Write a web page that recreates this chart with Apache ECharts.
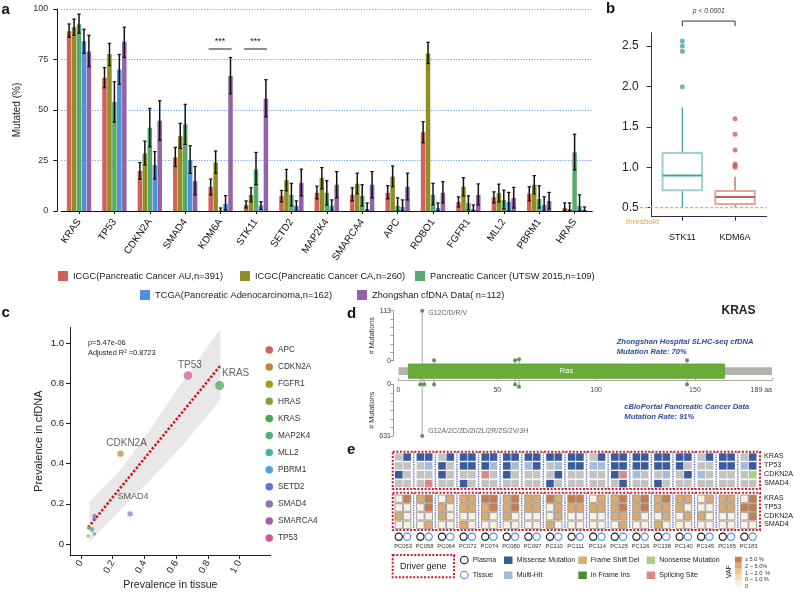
<!DOCTYPE html>
<html>
<head>
<meta charset="utf-8">
<script src="https://cdn.jsdelivr.net/npm/echarts@6/dist/echarts.min.js"></script>
<style>html,body{margin:0;padding:0;background:#fff;}#chart{width:794px;height:592px;}</style>
</head>
<body>
<div id="chart"></div>
<script>
// ================= Panel a data =================
const genesA = ['KRAS','TP53','CDKN2A','SMAD4','KDM6A','STK11','SETD2','MAP2K4','SMARCA4','APC','ROBO1','FGFR1','MLL2','PBRM1','HRAS'];
const cohorts = ['ICGC(Pancreatic Cancer AU,n=391)','ICGC(Pancreatic Cancer CA,n=260)','Pancreatic Cancer (UTSW 2015,n=109)','TCGA(Pancreatic Adenocarcinoma,n=162)','Zhongshan cfDNA Data( n=112)'];
const icgcAU   = [89, 66, 19.8, 26.6, 12, 3, 7.5, 9, 8, 9, 39, 4.5, 6.8, 8.5, 1.5];
const icgcAULo = [86, 61, 15.7, 22, 8, 1.5, 4.5, 6, 5, 6, 33.8, 2, 4, 5, 0.3];
const icgcAUHi = [92.6, 71, 24, 31.5, 15.8, 5, 10.2, 12.3, 11.5, 12.5, 44.2, 7, 9.5, 12, 4];
const icgcCA   = [91, 77.7, 28.5, 37, 24, 8, 15.3, 16.3, 13.5, 17, 78, 12, 8.8, 13, 1];
const icgcCALo = [87, 72, 22.8, 31, 18.6, 4.5, 10, 11, 8.5, 12, 73, 7.5, 4.5, 8.5, 0];
const icgcCAHi = [95, 83, 34.6, 43.4, 29.7, 11.5, 20.6, 21.5, 18.7, 22.3, 83.5, 16.5, 13.3, 17.5, 4];
const utsw     = [92.5, 54, 41.2, 42.9, 0, 20.6, 8, 9, 7.5, 2.5, 8, 4, 5.5, 6, 29];
const utswLo   = [88, 44, 31.8, 33, 0, 13, 2.5, 3, 2.5, 0, 3, 0.5, 1, 1.5, 20.3];
const utswHi   = [97.5, 64, 50.8, 52.8, 1.5, 29, 13.7, 15, 13, 6.5, 13.7, 7.5, 10.3, 12.5, 38];
const tcga     = [84, 70, 22.8, 25.2, 3.5, 2.7, 2.5, 2.5, 1, 2, 1.5, 0.8, 4.5, 3, 2.5];
const tcgaLo   = [78, 62.7, 15.8, 18.6, 0.5, 0.8, 0, 0, 0, 0, 0, 0, 0, 0, 0];
const tcgaHi   = [90, 77.5, 29.4, 32.3, 7.6, 4.6, 5, 5.5, 4, 5.5, 4, 3, 9.2, 7, 8];
const zs       = [79, 83.8, 44.7, 14.8, 66.8, 55.6, 14, 13, 13, 12, 9, 8, 6.5, 5, 0.5];
const zsLo     = [71.5, 76, 35, 8, 58, 46.7, 7.5, 6.5, 6.5, 5.5, 4, 3, 1.5, 1, 0];
const zsHi     = [87, 91, 54.6, 22, 76, 65, 20.7, 19.5, 19.5, 18.7, 14.5, 13.4, 11.7, 9.2, 2];
const sigGenes = ['KDM6A','STK11'];
const sigLevel = 80.2;
const sigMark = '***';

// ================= Panel b data =================
const boxGenes = ['STK11','KDM6A'];
const boxMin = [0.505, 0.505];
const boxQ1  = [0.715, 0.546];
const boxMed = [0.90, 0.632];
const boxQ3  = [1.177, 0.707];
const boxMax = [1.74, 0.884];
const outSTK11 = [2.563, 2.5, 2.436, 1.998];
const outKDM6A = [1.60, 1.408, 1.214, 1.04, 1.02, 1.0];
const threshold = 0.5;
const pText = 'p < 0.0001';
const ticksB = [0.5, 1.0, 1.5, 2.0, 2.5];

// ================= Panel c data =================
const genesC  = ['APC','CDKN2A','FGFR1','HRAS','KRAS','MAP2K4','MLL2','PBRM1','SETD2','SMAD4','SMARCA4','TP53'];
const tissueC = [0.05, 0.25, 0.05, 0.045, 0.875, 0.07, 0.07, 0.085, 0.085, 0.31, 0.085, 0.675];
const cfdnaC  = [0.08, 0.45, 0.08, 0.04, 0.79, 0.075, 0.07, 0.05, 0.125, 0.15, 0.14, 0.84];
const labeledC = ['CDKN2A','KRAS','SMAD4','TP53'];
const fitX = [0.046, 0.884];
const fitY = [0.083, 0.893];
const bandX  = [0.053, 0.25, 0.45, 0.65, 0.88];
const bandLo = [0.01, 0.17, 0.33, 0.50, 0.72];
const bandHi = [0.21, 0.37, 0.585, 0.82, 1.07];
const ticksC = [0, 0.2, 0.4, 0.6, 0.8, 1.0];
const statText1 = 'p=5.47e-06';
const statText2 = 'Adjusted R\u00B2 =0.8723';

// ================= Panel d data =================
const proteinLen = 189;
const domainStart = 5, domainEnd = 165, domainName = 'Ras';
const upPos = [12, 18, 59, 61, 146];
const upCnt = [113, 1, 1, 3, 1];
const upLabel = ['G12C/D/R/V', '', '', '', ''];
const upMax = 113;
const lowPos = [11, 12, 13, 18, 59, 61, 146];
const lowCnt = [2, 631, 2, 2, 2, 30, 2];
const lowLabel = ['', 'G12A/2C/2D/2I/2L/2R/2S/2V/3H', '', '', '', '', ''];
const lowMax = 631;
const ticksD = [0, 50, 100, 150, 189];

// ================= Panel e data =================
const samples = ['PC053','PC058','PC064','PC072','PC074','PC080','PC097','PC110','PC111','PC114','PC125','PC126','PC138','PC140','PC145','PC165','PC183'];
const genesE = ['KRAS','TP53','CDKN2A','SMAD4'];
// mutation type per sample [plasma, tissue]: 0 none,1 missense,2 multi-hit,3 splicing,4 nonsense
const mutKRAS   = [[0,1],[1,1],[0,1],[1,1],[1,1],[1,1],[1,1],[1,1],[1,1],[0,1],[1,1],[1,1],[1,1],[1,1],[0,1],[1,1],[0,1]];
const mutTP53   = [[0,0],[0,2],[1,0],[1,1],[1,2],[1,2],[2,1],[0,2],[1,1],[2,2],[1,1],[1,1],[1,1],[1,0],[0,0],[1,1],[2,1]];
const mutCDKN2A = [[1,0],[0,0],[1,0],[0,0],[3,0],[1,0],[0,0],[0,1],[0,0],[0,0],[1,3],[2,0],[0,2],[0,1],[2,0],[0,0],[0,4]];
const mutSMAD4  = [[0,0],[0,3],[0,0],[1,0],[0,0],[0,0],[0,0],[1,0],[0,0],[0,0],[0,1],[0,0],[1,0],[0,0],[0,0],[0,0],[0,0]];
// VAF level per sample [plasma, tissue]: 0 none, 1 0~1%, 2 1~2%, 3 2~5%, 4 >=5%
const vafKRAS   = [[0,4],[3,4],[0,3],[3,3],[4,4],[3,4],[3,3],[4,3],[4,4],[0,3],[3,4],[3,4],[3,4],[3,3],[0,3],[3,3],[0,4]];
const vafTP53   = [[0,0],[0,4],[3,0],[3,3],[3,4],[3,4],[3,3],[0,3],[3,3],[3,3],[3,4],[3,4],[3,3],[3,0],[0,0],[3,3],[4,4]];
const vafCDKN2A = [[3,0],[0,0],[3,0],[0,0],[3,0],[3,0],[0,0],[0,3],[0,0],[0,0],[3,3],[3,0],[0,3],[0,3],[3,0],[0,0],[0,4]];
const vafSMAD4  = [[0,0],[0,3],[0,0],[3,0],[0,0],[0,0],[0,0],[3,0],[0,0],[0,0],[0,3],[0,0],[3,0],[0,0],[0,0],[0,0],[0,0]];
const vafLabels = ['\u2265 5.0 %','2 ~ 5.0%','1 ~ 2.0  %','0 ~ 1.0 %','0'];

// ================= styling =================
const FF = '"Liberation Sans", Arial, Helvetica, sans-serif';
const colA = ['#cf6259','#8e8e24','#5aa96c','#4d92de','#9462a8'];
const BAR_W = 4.5, BAR_STEP = 4.95;
const boxDark = ['#4aa3a6','#cf5f55'], boxLight = ['#9dd0d1','#e6a6a0'];
const colC = ['#cf6359','#c0862f','#a29a26','#7ea334','#4aa546','#4fae7c','#50aeaa','#4f9ce0','#5b76c8','#8f73ba','#a95aa8','#d4569a'];
const MUT_COL = ['#c3c3c3','#3a5b9d','#a4bcda','#d58a88','#aad07f'];
const VAF_COL = ['#f8f0e2','#f1ddbb','#e9c794','#dcaa6c','#ca7b4a'];
const mutByGene = [mutKRAS, mutTP53, mutCDKN2A, mutSMAD4];
const vafByGene = [vafKRAS, vafTP53, vafCDKN2A, vafSMAD4];

const chart = echarts.init(document.getElementById('chart'), null, {renderer:'canvas', width:794, height:592});

const valsA = [icgcAU, icgcCA, utsw, tcga, zs];
const losA  = [icgcAULo, icgcCALo, utswLo, tcgaLo, zsLo];
const hisA  = [icgcAUHi, icgcCAHi, utswHi, tcgaHi, zsHi];
const errData = [];
valsA.forEach((v,k)=>v.forEach((_,i)=>errData.push([i,k,losA[k][i],hisA[k][i]])));

const fmtC = v => (Math.abs(v) < 1e-9 ? '0' : v.toFixed(1));
const sizeC = (x,y) => 1.5 + 7.5*Math.sqrt((x+y)/1.67);
const labelCfg = {
  TP53:{offset:[2,0], distance:1, fontSize:10},
  KRAS:{offset:[16,0], distance:3, fontSize:10},
  CDKN2A:{offset:[6,0], distance:2, fontSize:10},
  SMAD4:{offset:[3,0], distance:10, fontSize:9}
};

const noSplit = {show:false};
function hidden(grid, min, max, extra){ return Object.assign({type:'value', gridIndex:grid, min:min, max:max, show:false}, extra||{}); }

const grids = [
  {left:61.3, top:9, width:531, height:202},        // a
  {left:651.7, top:32.7, width:115, height:184},     // b
  {left:70, top:327.3, width:200.7, height:227.7},   // c
  {left:398.5, top:310.7, width:373.5, height:50},   // d upper
  {left:398.5, top:364, width:373.5, height:14.3},   // d protein
  {left:398.5, top:384.3, width:373.5, height:51.7}, // d lower
  {left:392, top:450, width:370, height:102}         // e
].map(g=>Object.assign({containLabel:false, outerBoundsMode:'none'}, g));

const xAxes = [
  {type:'category', gridIndex:0, data:genesA, offset:4,
   axisLine:{show:true, lineStyle:{color:'#111', width:1}},
   axisTick:{show:true, alignWithLabel:true, length:3, lineStyle:{color:'#111'}},
   axisLabel:{rotate:55, interval:0, fontSize:10, color:'#111', margin:5, fontFamily:FF},
   splitLine:noSplit},
  {type:'value', gridIndex:1, min:0.419, max:2.6,
   axisLine:{show:true, onZero:false, lineStyle:{color:'#333'}},
   axisTick:{show:true, customValues:[1,2], length:4, lineStyle:{color:'#333'}},
   axisLabel:{show:true, customValues:[1,2], formatter:v=>boxGenes[Math.round(v)-1], fontSize:9, color:'#111', margin:16, fontFamily:FF},
   splitLine:noSplit},
  {type:'value', gridIndex:2, min:-0.069, max:1.197,
   axisLine:{show:true, onZero:false, lineStyle:{color:'#222'}},
   axisTick:{show:true, customValues:ticksC, length:4, lineStyle:{color:'#222'}},
   axisLabel:{show:true, customValues:ticksC, formatter:fmtC, rotate:60, fontSize:9.6, color:'#222', margin:6, fontFamily:FF},
   splitLine:noSplit,
   name:'Prevalence in tissue', nameLocation:'middle', nameGap:25,
   nameTextStyle:{fontSize:10.5, color:'#222', fontFamily:FF}},
  hidden(3, 0, proteinLen),
  {type:'value', gridIndex:4, min:0, max:proteinLen, position:'bottom', offset:1.7,
   axisLine:{show:true, onZero:false, lineStyle:{color:'#aaa'}},
   axisTick:{show:true, inside:true, customValues:ticksD, length:2.5, lineStyle:{color:'#aaa'}},
   axisLabel:{show:true, customValues:ticksD, formatter:v=>(v===proteinLen? v+' aa' : String(v)), fontSize:7, color:'#444', margin:7, fontFamily:FF, alignMaxLabel:'right'},
   splitLine:noSplit},
  hidden(5, 0, proteinLen),
  hidden(6, 0, 370)
];

const yAxes = [
  {type:'value', gridIndex:0, min:0, max:100, interval:25, offset:4,
   axisLine:{show:true, lineStyle:{color:'#111'}},
   axisTick:{show:true, length:4, lineStyle:{color:'#111'}},
   axisLabel:{show:true, fontSize:9, color:'#333', margin:9, fontFamily:FF},
   splitLine:{show:true, lineStyle:{color:'#6e9fe6', type:[1.2,1.6], width:1}},
   name:'Mutated (%)', nameLocation:'middle', nameGap:29, nameRotate:90,
   nameTextStyle:{fontSize:10, color:'#222', fontFamily:FF}},
  {type:'value', gridIndex:1, min:0.3886, max:2.666,
   axisLine:{show:true, onZero:false, lineStyle:{color:'#333'}},
   axisTick:{show:true, customValues:ticksB, length:5, lineStyle:{color:'#333'}},
   axisLabel:{show:true, customValues:ticksB, formatter:v=>v.toFixed(1), fontSize:12, color:'#222', margin:13, fontFamily:FF},
   splitLine:noSplit},
  {type:'value', gridIndex:2, min:-0.055, max:1.08,
   axisLine:{show:true, onZero:false, lineStyle:{color:'#222'}},
   axisTick:{show:true, customValues:ticksC, length:4, lineStyle:{color:'#222'}},
   axisLabel:{show:true, customValues:ticksC, formatter:fmtC, fontSize:9.6, color:'#222', margin:6, fontFamily:FF},
   splitLine:noSplit,
   name:'Prevalence in cfDNA', nameLocation:'middle', nameGap:26, nameRotate:90,
   nameTextStyle:{fontSize:11, color:'#222', fontFamily:FF}},
  {type:'value', gridIndex:3, min:0, max:upMax, offset:5.5,
   axisLine:{show:true, onZero:false, lineStyle:{color:'#999'}},
   axisTick:{show:true, customValues:[0,1,2,3,4,5,6].map(k=>upMax*k/6), length:2.5, lineStyle:{color:'#999'}},
   axisLabel:{show:true, customValues:[0, upMax], fontSize:7, color:'#333', margin:2, fontFamily:FF},
   splitLine:noSplit,
   name:'# Mutations', nameLocation:'middle', nameGap:13, nameRotate:90,
   nameTextStyle:{fontSize:7.2, color:'#333', fontFamily:FF}},
  hidden(4, 0, 1),
  {type:'value', gridIndex:5, min:0, max:lowMax, inverse:true, offset:5.5,
   axisLine:{show:true, onZero:false, lineStyle:{color:'#999'}},
   axisTick:{show:true, customValues:[0,1,2,3,4,5,6].map(k=>lowMax*k/6), length:2.5, lineStyle:{color:'#999'}},
   axisLabel:{show:true, customValues:[0, lowMax], fontSize:7, color:'#333', margin:2, fontFamily:FF},
   splitLine:noSplit,
   name:'# Mutations', nameLocation:'middle', nameGap:13, nameRotate:90,
   nameTextStyle:{fontSize:7.2, color:'#333', fontFamily:FF}},
  hidden(6, 0, 102, {inverse:true})
];

const series = [];
// ---- panel a bars
valsA.forEach((v,k)=>{
  series.push({type:'bar', name:cohorts[k], xAxisIndex:0, yAxisIndex:0, data:v,
    barWidth:BAR_W, barGap:'10%', itemStyle:{color:colA[k]}, z:2, silent:true});
});
// ---- panel a error bars
series.push({type:'custom', xAxisIndex:0, yAxisIndex:0, data:errData, z:4, silent:true,
  encode:{x:0, y:[2,3]},
  renderItem(params, api){
    const c = api.value(0), k = api.value(1);
    const lo = api.coord([c, api.value(2)]), hi = api.coord([c, api.value(3)]);
    const x = lo[0] + (k-2)*BAR_STEP;
    const st = {stroke:'#111', lineWidth:1.5};
    return {type:'group', children:[
      {type:'line', shape:{x1:x, y1:lo[1], x2:x, y2:hi[1]}, style:st},
      {type:'line', shape:{x1:x-1.7, y1:hi[1], x2:x+1.7, y2:hi[1]}, style:{stroke:'#111', lineWidth:1.2}},
      {type:'line', shape:{x1:x-1.7, y1:lo[1], x2:x+1.7, y2:lo[1]}, style:{stroke:'#111', lineWidth:1.2}}
    ]};
  }});
// ---- panel a significance
series.push({type:'custom', xAxisIndex:0, yAxisIndex:0, silent:true, z:5,
  data:sigGenes.map(g=>[genesA.indexOf(g), sigLevel]),
  renderItem(params, api){
    const p = api.coord([api.value(0), api.value(1)]);
    return {type:'group', children:[
      {type:'line', shape:{x1:p[0]-12, y1:p[1], x2:p[0]+11, y2:p[1]}, style:{stroke:'#222', lineWidth:1}},
      {type:'text', x:p[0]-0.5, y:p[1]-3, style:{text:sigMark, fontSize:9, fill:'#222', align:'center', verticalAlign:'bottom', fontFamily:FF}}
    ]};
  }});

// ---- panel b threshold
series.push({type:'custom', xAxisIndex:1, yAxisIndex:1, silent:true, z:1,
  data:[[0.2, 2.6, threshold]],
  renderItem(params, api){
    const a = api.coord([api.value(0), api.value(2)]), b = api.coord([api.value(1), api.value(2)]);
    return {type:'line', shape:{x1:a[0], y1:a[1], x2:b[0], y2:b[1]}, style:{stroke:'#f0a830', lineWidth:1.3, lineDash:[3,2]}};
  }});
// ---- panel b boxes
series.push({type:'custom', xAxisIndex:1, yAxisIndex:1, silent:true, z:3,
  data:boxGenes.map((g,i)=>[i+1, boxMin[i], boxQ1[i], boxMed[i], boxQ3[i], boxMax[i]]),
  renderItem(params, api){
    const i = params.dataIndex, x = api.value(0);
    const pMin = api.coord([x, api.value(1)]), pQ1 = api.coord([x, api.value(2)]);
    const pMed = api.coord([x, api.value(3)]), pQ3 = api.coord([x, api.value(4)]);
    const pMax = api.coord([x, api.value(5)]);
    const hw = api.size([0.75, 0])[0]/2;
    return {type:'group', children:[
      {type:'line', shape:{x1:pMin[0], y1:pMin[1], x2:pQ1[0], y2:pQ1[1]}, style:{stroke:boxDark[i], lineWidth:1.3}},
      {type:'line', shape:{x1:pQ3[0], y1:pQ3[1], x2:pMax[0], y2:pMax[1]}, style:{stroke:boxDark[i], lineWidth:1.3}},
      {type:'rect', shape:{x:pQ3[0]-hw, y:pQ3[1], width:2*hw, height:pQ1[1]-pQ3[1]}, style:{fill:'#fff', stroke:boxLight[i], lineWidth:2}},
      {type:'line', shape:{x1:pMed[0]-hw, y1:pMed[1], x2:pMed[0]+hw, y2:pMed[1]}, style:{stroke:boxDark[i], lineWidth:2}}
    ]};
  }});
series.push({type:'scatter', xAxisIndex:1, yAxisIndex:1, silent:true, z:4, symbolSize:5,
  data:outSTK11.map(v=>[1, v]), itemStyle:{color:boxDark[0]}});
series.push({type:'scatter', xAxisIndex:1, yAxisIndex:1, silent:true, z:4, symbolSize:5,
  data:outKDM6A.map(v=>[2, v]), itemStyle:{color:boxDark[1]}});
// ---- panel b p-value bracket
series.push({type:'custom', xAxisIndex:1, yAxisIndex:1, silent:true, z:4,
  data:[[1, 2, 2.81]],
  renderItem(params, api){
    const a = api.coord([api.value(0), api.value(2)]), b = api.coord([api.value(1), api.value(2)]);
    const st = {stroke:'#333', lineWidth:1};
    return {type:'group', children:[
      {type:'line', shape:{x1:a[0], y1:a[1], x2:b[0], y2:b[1]}, style:st},
      {type:'line', shape:{x1:a[0], y1:a[1], x2:a[0], y2:a[1]+5}, style:st},
      {type:'line', shape:{x1:b[0], y1:b[1], x2:b[0], y2:b[1]+5}, style:st},
      {type:'text', x:(a[0]+b[0])/2, y:a[1]-9.5, style:{text:pText, fontSize:6.7, fontStyle:'italic', fill:'#333', align:'center', verticalAlign:'middle', fontFamily:FF}}
    ]};
  }});

// ---- panel c band
series.push({type:'custom', xAxisIndex:2, yAxisIndex:2, silent:true, z:1, data:[[0]],
  renderItem(params, api){
    const pts = [];
    bandX.forEach((x,i)=>pts.push(api.coord([x, bandHi[i]])));
    for (let i = bandX.length-1; i >= 0; i--) pts.push(api.coord([bandX[i], bandLo[i]]));
    return {type:'polygon', shape:{points:pts}, style:{fill:'rgba(200,200,200,0.42)'}};
  }});
series.push({type:'line', xAxisIndex:2, yAxisIndex:2, silent:true, z:3, symbol:'none',
  data:fitX.map((x,i)=>[x, fitY[i]]),
  lineStyle:{color:'#d01c1c', width:2.6, type:[2.4,1.8]}});
genesC.forEach((g,i)=>{
  const lc = labelCfg[g];
  series.push({type:'scatter', name:g, xAxisIndex:2, yAxisIndex:2, silent:true, z:4,
    data:[[tissueC[i], cfdnaC[i]]],
    symbolSize:sizeC(tissueC[i], cfdnaC[i]),
    itemStyle:{color:colC[i], opacity:0.72},
    label: labeledC.indexOf(g) >= 0 ? {show:true, formatter:g, position:'top', distance:lc.distance, offset:lc.offset,
      fontSize:lc.fontSize, color:'#222', fontFamily:FF} : {show:false}
  });
});

// ---- panel d protein & domain
series.push({type:'custom', xAxisIndex:4, yAxisIndex:4, silent:true, z:3,
  data:[[0, proteinLen, 0], [domainStart, domainEnd, 1]],
  renderItem(params, api){
    const s = api.value(0), e = api.value(1), isDom = api.value(2) === 1;
    if (!isDom) {
      const a = api.coord([s, 0.77]), b = api.coord([e, 0.23]);
      return {type:'rect', shape:{x:a[0], y:a[1], width:b[0]-a[0], height:b[1]-a[1]}, style:{fill:'#b3b3ad'}};
    }
    const a = api.coord([s, 1]), b = api.coord([e, 0]);
    return {type:'group', children:[
      {type:'rect', shape:{x:a[0], y:a[1], width:b[0]-a[0], height:b[1]-a[1]}, style:{fill:'#6aab3a', stroke:'#5c9c2e', lineWidth:0.8}},
      {type:'text', x:(a[0]+b[0])/2, y:(a[1]+b[1])/2, style:{text:domainName, fontSize:7.5, fill:'#fff', align:'center', verticalAlign:'middle', fontFamily:FF}}
    ]};
  }});
// stems
series.push({type:'custom', xAxisIndex:3, yAxisIndex:3, silent:true, z:1,
  data:upPos.map((p,i)=>[p, upCnt[i]]),
  renderItem(params, api){
    const a = api.coord([api.value(0), api.value(1)]), b = api.coord([api.value(0), 0]);
    return {type:'line', shape:{x1:a[0], y1:a[1], x2:b[0], y2:b[1]+4}, style:{stroke:'#a8a8a8', lineWidth:1}};
  }});
series.push({type:'custom', xAxisIndex:5, yAxisIndex:5, silent:true, z:1,
  data:lowPos.map((p,i)=>[p, lowCnt[i]]),
  renderItem(params, api){
    const a = api.coord([api.value(0), api.value(1)]), b = api.coord([api.value(0), 0]);
    return {type:'line', shape:{x1:a[0], y1:a[1], x2:b[0], y2:b[1]-6}, style:{stroke:'#a8a8a8', lineWidth:1}};
  }});
series.push({type:'scatter', xAxisIndex:3, yAxisIndex:3, silent:true, z:5, symbolSize:4,
  itemStyle:{color:'#3b7a2e'},
  data:upPos.map((p,i)=>({value:[p, upCnt[i]],
    label:{show:!!upLabel[i], formatter:upLabel[i], position:'right', distance:4, offset:[0,2.5], fontSize:7, color:'#333', fontFamily:FF}}))});
series.push({type:'scatter', xAxisIndex:5, yAxisIndex:5, silent:true, z:5, symbolSize:4,
  itemStyle:{color:'#3b7a2e'},
  data:lowPos.map((p,i)=>({value:[p, lowCnt[i]],
    label:{show:!!lowLabel[i], formatter:lowLabel[i], position:'right', distance:4, offset:[0,-5], fontSize:7, color:'#333', fontFamily:FF}}))});

// ---- panel e heatmaps
series.push({type:'custom', xAxisIndex:6, yAxisIndex:6, silent:true, z:2,
  data:samples.map((s,i)=>[i]),
  renderItem(params, api){
    const i = api.value(0);
    const L = 3 + i*21.6;
    const R = (x,y,w,h)=>{ const p = api.coord([x,y]), q = api.coord([x+w, y+h]); return {x:p[0], y:p[1], width:q[0]-p[0], height:q[1]-p[1]}; };
    const ch = [];
    for (let r = 0; r < 4; r++) {
      for (let c = 0; c < 2; c++) {
        ch.push({type:'rect', shape:R(L+c*8.3, 3.3+r*8.85, 7.6, 7.5), style:{fill:MUT_COL[mutByGene[r][i][c]]}});
        ch.push({type:'rect', shape:R(L+c*8.3, 45+r*8.7, 7.6, 7.6), style:{fill:VAF_COL[vafByGene[r][i][c]], stroke:'#9a9a9a', lineWidth:0.9}});
      }
    }
    const cp = api.coord([L+3.8, 86.7]), ct = api.coord([L+12.1, 86.7]);
    ch.push({type:'circle', shape:{cx:cp[0], cy:cp[1], r:3.6}, style:{fill:'none', stroke:'#111', lineWidth:1.1}});
    ch.push({type:'circle', shape:{cx:ct[0], cy:ct[1], r:3.6}, style:{fill:'none', stroke:'#4a8fe0', lineWidth:1.1}});
    const tl = api.coord([L+8, 96.7]);
    ch.push({type:'text', x:tl[0], y:tl[1], style:{text:samples[i], fontSize:5.8, fill:'#333', align:'center', verticalAlign:'middle', fontFamily:FF}});
    if (i > 0) {
      const a1 = api.coord([L-2.85, 2]), a2 = api.coord([L-2.85, 39]);
      const b1 = api.coord([L-2.85, 43]), b2 = api.coord([L-2.85, 80]);
      const st = {stroke:'#4c5cbf', lineWidth:1.4, lineDash:[1.2,1.2]};
      ch.push({type:'line', shape:{x1:a1[0], y1:a1[1], x2:a2[0], y2:a2[1]}, style:st});
      ch.push({type:'line', shape:{x1:b1[0], y1:b1[1], x2:b2[0], y2:b2[1]}, style:st});
    }
    return {type:'group', children:ch};
  }});
series.push({type:'custom', xAxisIndex:6, yAxisIndex:6, silent:true, z:3,
  data:[[0]],
  renderItem(params, api){
    const ch = [];
    const box = (x1,y1,x2,y2)=>{ const p = api.coord([x1,y1]), q = api.coord([x2,y2]);
      return {type:'rect', shape:{x:p[0], y:p[1], width:q[0]-p[0], height:q[1]-p[1]}, style:{fill:'none', stroke:'#c8202a', lineWidth:2, lineDash:[2,1.6]}}; };
    ch.push(box(0.7, 1.7, 368, 39));
    ch.push(box(0.7, 42.7, 368, 80));
    genesE.forEach((g,r)=>{
      const a = api.coord([372, 3.3+r*8.85+3.2]);
      const b = api.coord([372, 45+r*8.7+3.3]);
      ch.push({type:'text', x:a[0], y:a[1], style:{text:g, fontSize:7.2, fill:'#222', align:'left', verticalAlign:'middle', fontFamily:FF}});
      ch.push({type:'text', x:b[0], y:b[1], style:{text:g, fontSize:7.2, fill:'#222', align:'left', verticalAlign:'middle', fontFamily:FF}});
    });
    return {type:'group', children:ch};
  }});

// ---- legends
const legendPos = [[58,271],[240,271],[415,271],[140,290],[357,290]];
const legends = cohorts.map((n,k)=>({data:[n], left:legendPos[k][0], top:legendPos[k][1], icon:'rect',
  itemWidth:10, itemHeight:10, padding:0, itemGap:0, selectedMode:false,
  textStyle:{fontSize:9.3, color:'#222', fontFamily:FF}}));
legends.push({data:genesC.map((g,i)=>({name:g, itemStyle:{color:colC[i], opacity:1}})),
  orient:'vertical', left:265.5, top:346, icon:'circle', itemWidth:7.5, itemHeight:7.5, itemGap:9.1,
  padding:0, selectedMode:false, textStyle:{fontSize:8.2, color:'#333', lineHeight:8, fontFamily:FF}});

// ---- static texts / legend of panel e
const T = (x,y,text,o,rot)=>({type:'text', x:x, y:y, rotation:rot||0, silent:true, z:100,
  style:Object.assign({text:text, fontFamily:FF, fill:'#222', fontSize:8, align:'left', verticalAlign:'middle'}, o||{})});
const graphics = [
  T(1.5,10,'a',{fontSize:15, fontWeight:'bold', fill:'#111'}),
  T(606,9,'b',{fontSize:15, fontWeight:'bold', fill:'#111'}),
  T(1.5,313,'c',{fontSize:15, fontWeight:'bold', fill:'#111'}),
  T(347,314,'d',{fontSize:15, fontWeight:'bold', fill:'#111'}),
  T(347,450,'e',{fontSize:15, fontWeight:'bold', fill:'#111'}),
  T(659,221.7,'threshold',{fontSize:8, fill:'#e8a030', align:'right'}),
  T(88,343,statText1,{fontSize:7.4, fill:'#222'}),
  T(88,353.3,statText2,{fontSize:7.4, fill:'#222'}),
  T(738.5,310.7,'KRAS',{fontSize:12, fontWeight:'bold', fill:'#222', align:'center'}),
  T(616.7,342.3,'Zhongshan Hospital SLHC-seq cfDNA',{fontSize:7.6, fontWeight:'bold', fontStyle:'italic', fill:'#2f4b9b'}),
  T(616.7,352.3,'Mutation Rate: 70%',{fontSize:7.6, fontWeight:'bold', fontStyle:'italic', fill:'#2f4b9b'}),
  T(624.3,407.3,'cBioPortal Pancreatic Cancer Data',{fontSize:7.6, fontWeight:'bold', fontStyle:'italic', fill:'#2f4b9b'}),
  T(624.3,417.3,'Mutation Rate: 91%',{fontSize:7.6, fontWeight:'bold', fontStyle:'italic', fill:'#2f4b9b'}),
  // panel e legend
  {type:'rect', silent:true, z:100, shape:{x:392.7, y:555, width:61.3, height:22.3}, style:{fill:'none', stroke:'#c8202a', lineWidth:2, lineDash:[2,1.6]}},
  T(423.3,566.7,'Driver gene',{fontSize:9, align:'center'}),
  {type:'circle', silent:true, z:100, shape:{cx:464.3, cy:560, r:3.8}, style:{fill:'none', stroke:'#111', lineWidth:1.1}},
  T(472.7,560,'Plasma',{fontSize:7}),
  {type:'circle', silent:true, z:100, shape:{cx:464.3, cy:575, r:3.8}, style:{fill:'none', stroke:'#4a8fe0', lineWidth:1.1}},
  T(472.7,575,'Tissue',{fontSize:7}),
  {type:'rect', silent:true, z:100, shape:{x:504, y:556.5, width:8.5, height:7.5}, style:{fill:MUT_COL[1]}},
  T(516.7,560,'Missense Mutation',{fontSize:7}),
  {type:'rect', silent:true, z:100, shape:{x:504, y:571.5, width:8.5, height:7.5}, style:{fill:MUT_COL[2]}},
  T(516.7,575,'Multi-Hit',{fontSize:7}),
  {type:'rect', silent:true, z:100, shape:{x:578.3, y:556.5, width:8.5, height:7.5}, style:{fill:'#dcab6c'}},
  T(590.7,560,'Frame Shift Del',{fontSize:7}),
  {type:'rect', silent:true, z:100, shape:{x:578.3, y:571.5, width:8.5, height:7.5}, style:{fill:'#4b8b2c'}},
  T(590.7,575,'In Frame Ins',{fontSize:7}),
  {type:'rect', silent:true, z:100, shape:{x:646.7, y:556.5, width:8.5, height:7.5}, style:{fill:MUT_COL[4]}},
  T(659.3,560,'Nonsense Mutation',{fontSize:7}),
  {type:'rect', silent:true, z:100, shape:{x:646.7, y:571.5, width:8.5, height:7.5}, style:{fill:MUT_COL[3]}},
  T(659.3,575,'Splicing Site',{fontSize:7}),
  T(729,571.7,'VAF',{fontSize:7, align:'center'}, Math.PI/2)
];
vafLabels.forEach((lab,k)=>{
  graphics.push({type:'rect', silent:true, z:100, shape:{x:735, y:556.7+k*6, width:6.7, height:6}, style:{fill:VAF_COL[4-k]}});
  graphics.push(T(745, 559.5+k*6.8, lab, {fontSize:5.6, fill:'#333'}));
});

chart.setOption({
  animation:false,
  backgroundColor:'#fff',
  textStyle:{fontFamily:FF},
  grid:grids,
  xAxis:xAxes,
  yAxis:yAxes,
  legend:legends,
  series:series,
  graphic:graphics
});
</script>
</body>
</html>
